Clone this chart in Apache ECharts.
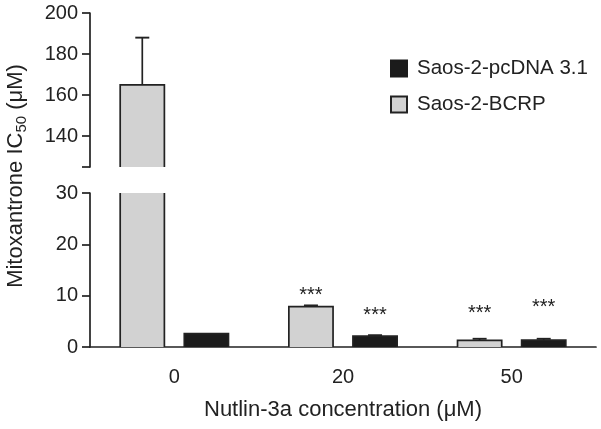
<!DOCTYPE html>
<html>
<head>
<meta charset="utf-8">
<script src="https://cdn.jsdelivr.net/npm/echarts@6/dist/echarts.min.js"></script>
<style>html,body{margin:0;padding:0;background:#fff}#c{width:601px;height:429px}</style>
</head>
<body>
<div id="c"></div>
<script>
// ---- data ----
const categories = ['0', '20', '50'];
const bcrp = [165, 7.85, 1.3];
const bcrpErr = [23, 0.25, 0.3];
const pcdna = [2.6, 2.1, 1.35];
const pcdnaErr = [0, 0.2, 0.25];
const sigText = '***';
const sigBcrpY = [null, 11.0, 7.6];   // value-axis height of significance marks
const sigPcdnaY = [null, 7.2, 8.6];
const upperTicks = [125, 140, 160, 180, 200];
const upperLabels = [140, 160, 180, 200];

// ---- style ----
const FONT = 'Liberation Sans, Arial, sans-serif';
const INK = '#222';
const GREY = '#d2d2d2';
const BLACK = '#1b1b1b';

const chart = echarts.init(document.getElementById('c'), null, {renderer: 'canvas'});

function barRenderer(side, fill) {
  return function (params, api) {
    const cat = api.value(0), v = api.value(1), e = api.value(2);
    const band = api.size([1, 0])[0];
    const c = api.coord([cat, 0]);
    const cx = c[0] + side * band * 0.19;
    const w = band * 0.262;
    const yb = c[1];
    const yt = api.coord([cat, v])[1];
    const ye = api.coord([cat, v + e])[1];
    const x0 = cx - w / 2, x1 = cx + w / 2;
    const children = [
      {type: 'rect', shape: {x: x0, y: yt, width: w, height: yb - yt}, style: {fill: fill}},
      {type: 'polyline', shape: {points: [[x0, yb], [x0, yt], [x1, yt], [x1, yb]]},
       style: {fill: null, stroke: INK, lineWidth: 1.7}}
    ];
    if (e > 0) {
      children.push({type: 'line', shape: {x1: cx, y1: yt, x2: cx, y2: ye}, style: {stroke: INK, lineWidth: 1.7}});
      children.push({type: 'line', shape: {x1: cx - 7, y1: ye, x2: cx + 7, y2: ye}, style: {stroke: INK, lineWidth: 1.9}});
    }
    return {type: 'group', children: children};
  };
}

function starRenderer(params, api) {
  const cat = api.value(0), y = api.value(1), side = api.value(2);
  const band = api.size([1, 0])[0];
  const c = api.coord([cat, y]);
  return {
    type: 'text',
    style: {x: c[0] + side * band * 0.19, y: c[1] + 5, text: sigText, fill: INK,
            font: '20px ' + FONT, align: 'center', verticalAlign: 'middle'}
  };
}

const bcrpData = categories.map((c, i) => [i, bcrp[i], bcrpErr[i]]);
const pcdnaData = categories.map((c, i) => [i, pcdna[i], pcdnaErr[i]]);
const starData = [];
sigBcrpY.forEach((y, i) => { if (y != null) starData.push([i, y, -1]); });
sigPcdnaY.forEach((y, i) => { if (y != null) starData.push([i, y, 1]); });

const axisLineStyle = {color: INK, width: 1.7};
const labelStyle = {color: INK, fontSize: 20, fontFamily: FONT};

const option = {
  animation: false,
  backgroundColor: '#fff',
  grid: [
    {left: 90, right: 5, top: 13, height: 154},
    {left: 90, right: 5, top: 193, bottom: 82}
  ],
  xAxis: [
    {type: 'category', data: categories, gridIndex: 0, show: false},
    {type: 'category', data: categories, gridIndex: 1,
     axisLine: {lineStyle: axisLineStyle},
     axisTick: {alignWithLabel: true, length: 8, lineStyle: axisLineStyle},
     axisLabel: Object.assign({margin: 20}, labelStyle),
     name: 'Nutlin-3a concentration (\u03bcM)', nameLocation: 'middle', nameGap: 52,
     nameTextStyle: {color: INK, fontSize: 22, fontFamily: FONT}}
  ],
  yAxis: [
    {type: 'value', gridIndex: 0, min: 125, max: 200,
     splitLine: {show: false},
     axisLine: {show: true, lineStyle: axisLineStyle},
     axisTick: {show: true, length: 8, lineStyle: axisLineStyle, customValues: upperTicks},
     axisLabel: Object.assign({margin: 12, customValues: upperLabels}, labelStyle)},
    {type: 'value', gridIndex: 1, min: 0, max: 30, interval: 10,
     splitLine: {show: false},
     axisLine: {show: true, lineStyle: axisLineStyle},
     axisTick: {show: true, length: 8, lineStyle: axisLineStyle},
     axisLabel: Object.assign({margin: 12}, labelStyle)}
  ],
  legend: {
    orient: 'vertical', left: 390, top: 58, padding: 0,
    itemWidth: 16, itemHeight: 16, itemGap: 15, icon: 'rect',
    textStyle: {color: INK, fontSize: 20.5, fontFamily: FONT, padding: [0, 0, 0, 5]},
    data: ['Saos-2-pcDNA 3.1', 'Saos-2-BCRP']
  },
  graphic: [{
    type: 'text', x: 16, y: 176, rotation: Math.PI / 2,
    style: {
      text: '{a|Mitoxantrone IC}{s|50}{a| (\u03bcM)}',
      align: 'center', verticalAlign: 'middle',
      rich: {
        a: {fontSize: 22, fontFamily: FONT, fill: INK, lineHeight: 26, verticalAlign: 'middle'},
        s: {fontSize: 15, fontFamily: FONT, fill: INK, lineHeight: 26, verticalAlign: 'bottom', padding: [8, 0, 0, 0]}
      }
    }
  }],
  series: [
    {type: 'custom', name: 'Saos-2-BCRP', xAxisIndex: 0, yAxisIndex: 0, clip: true,
     itemStyle: {color: GREY, borderColor: INK, borderWidth: 1.5},
     renderItem: barRenderer(-1, GREY), data: bcrpData},
    {type: 'custom', name: 'Saos-2-pcDNA 3.1', xAxisIndex: 0, yAxisIndex: 0, clip: true,
     itemStyle: {color: BLACK, borderColor: BLACK, borderWidth: 1},
     renderItem: barRenderer(1, BLACK), data: pcdnaData},
    {type: 'custom', name: 'Saos-2-BCRP', xAxisIndex: 1, yAxisIndex: 1, clip: true,
     itemStyle: {color: GREY, borderColor: INK, borderWidth: 1.5},
     renderItem: barRenderer(-1, GREY), data: bcrpData},
    {type: 'custom', name: 'Saos-2-pcDNA 3.1', xAxisIndex: 1, yAxisIndex: 1, clip: true,
     itemStyle: {color: BLACK, borderColor: BLACK, borderWidth: 1},
     renderItem: barRenderer(1, BLACK), data: pcdnaData},
    {type: 'custom', name: 'sig', xAxisIndex: 1, yAxisIndex: 1, clip: false,
     renderItem: starRenderer, data: starData}
  ]
};
chart.setOption(option);
</script>
</body>
</html>
